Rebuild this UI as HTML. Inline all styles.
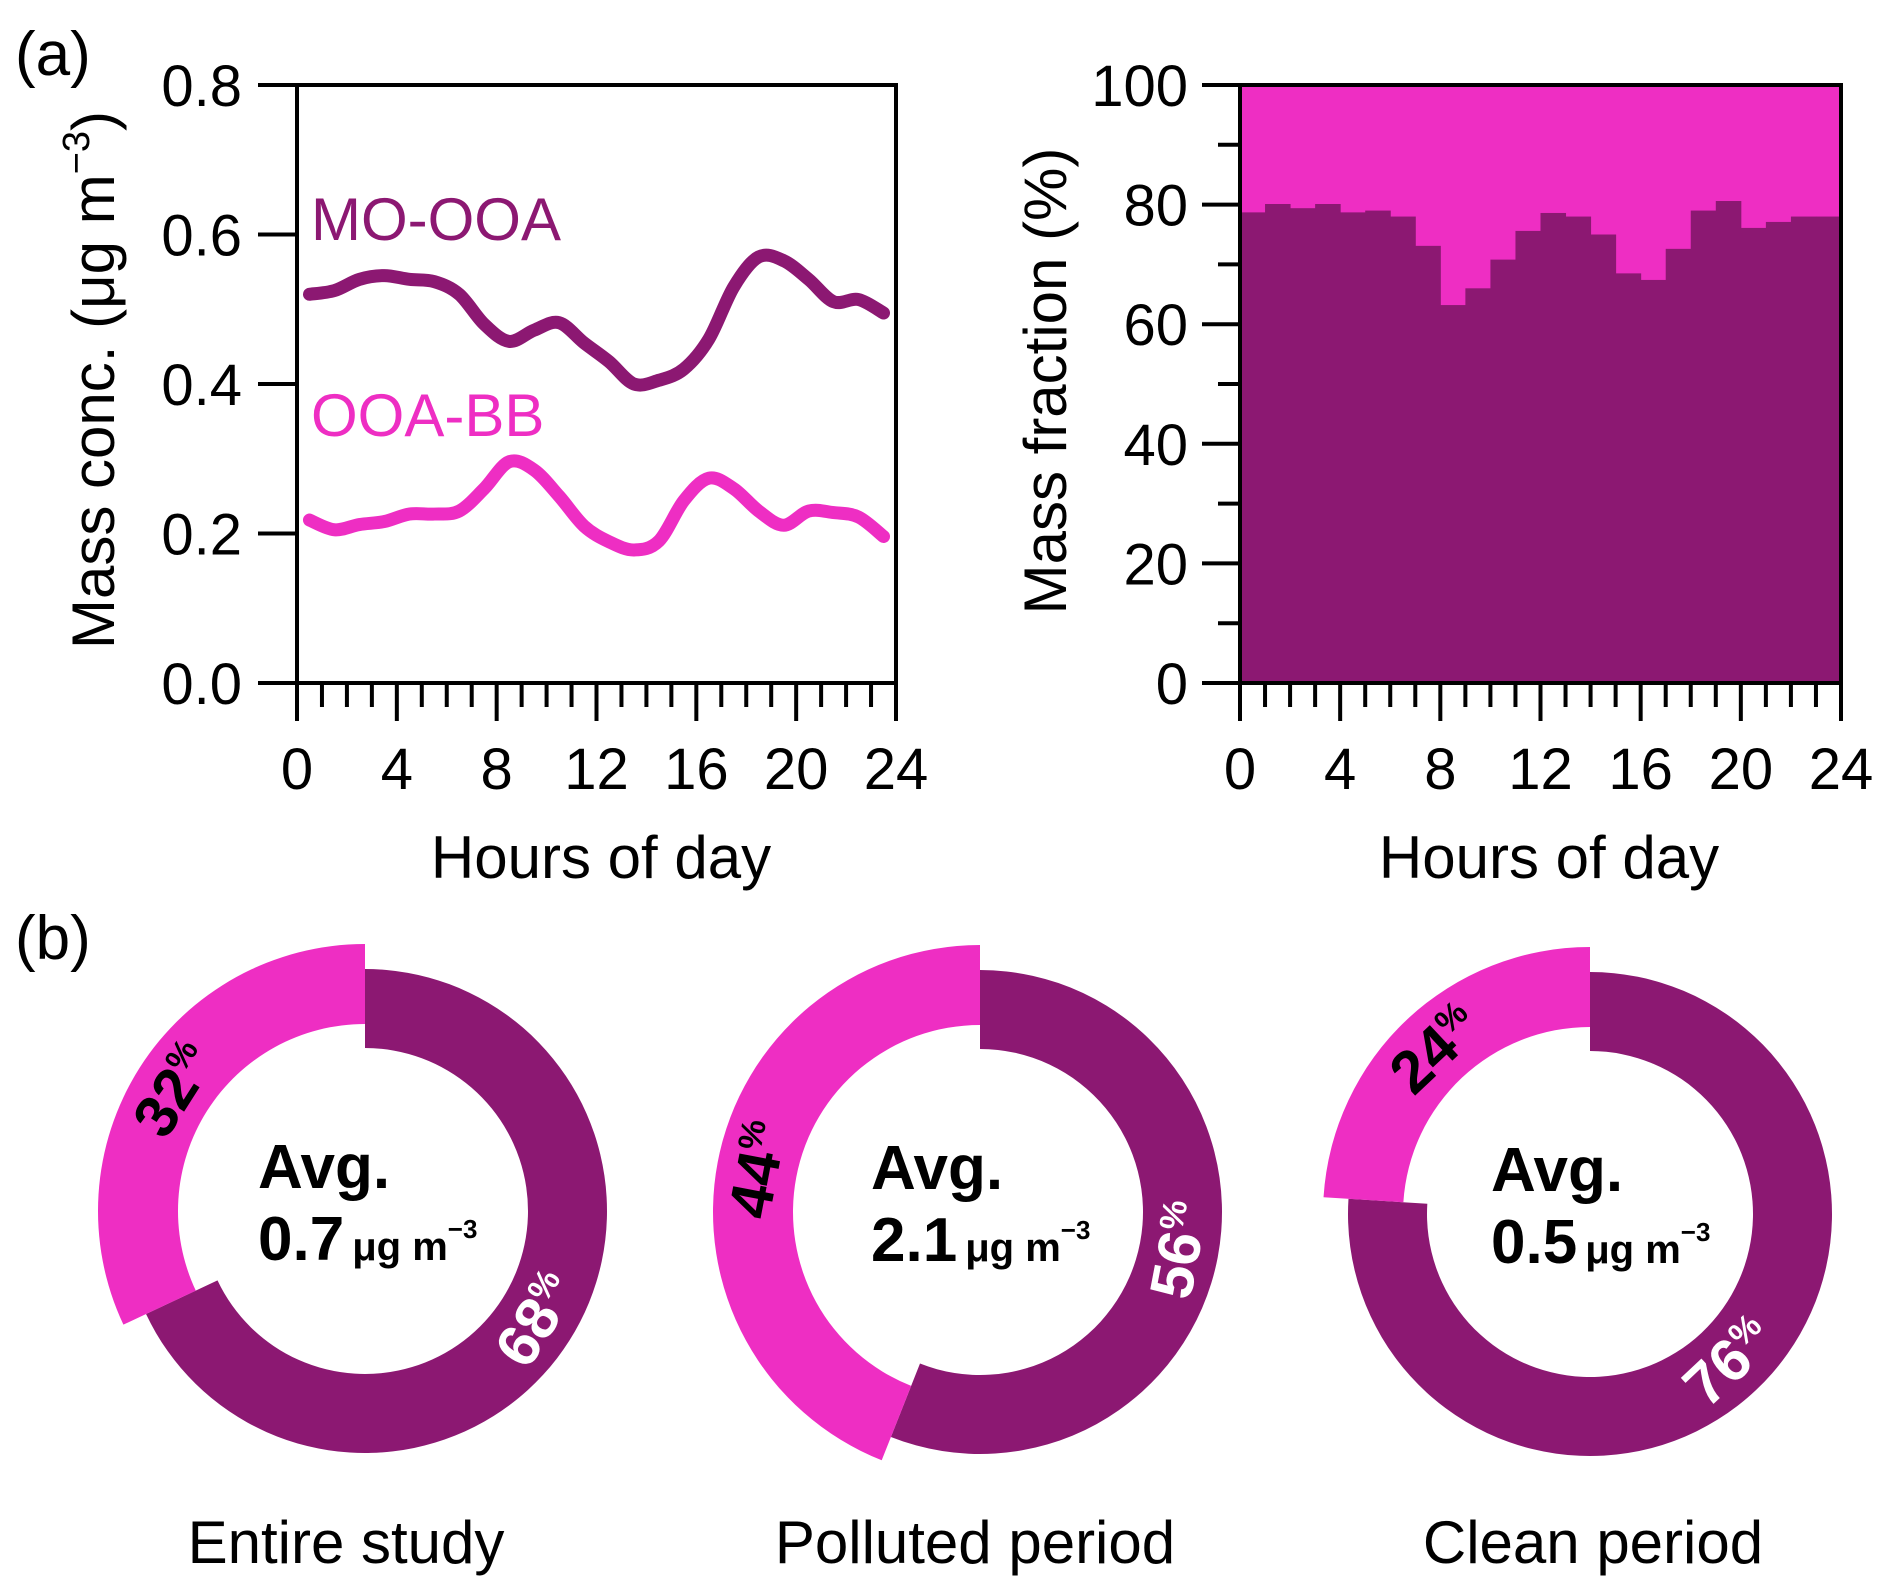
<!DOCTYPE html>
<html><head><meta charset="utf-8"><style>
html,body{margin:0;padding:0;background:#fff}
svg{display:block;font-family:"Liberation Sans",Arial,sans-serif}
</style></head><body>
<svg id="fig" width="1892" height="1594" viewBox="0 0 1892 1594" xmlns="http://www.w3.org/2000/svg">
<text x="15" y="75" font-size="62">(a)</text>
<text x="15" y="959" font-size="62">(b)</text>
<g id="left"></g>
<g id="right"></g>
<g id="donuts"></g>
</svg>
<script>
const NS="http://www.w3.org/2000/svg";
const DARK="#8c1872", PINK="#ee2ec3";
// ---- data ----
const hours=[0.5,1.5,2.5,3.5,4.5,5.5,6.5,7.5,8.5,9.5,10.5,11.5,12.5,13.5,14.5,15.5,16.5,17.5,18.5,19.5,20.5,21.5,22.5,23.5];
const moOoa=[0.52,0.525,0.54,0.545,0.54,0.537,0.52,0.48,0.457,0.472,0.482,0.455,0.43,0.40,0.405,0.42,0.46,0.53,0.57,0.565,0.54,0.51,0.513,0.495];
const ooaBb=[0.218,0.205,0.212,0.216,0.226,0.226,0.23,0.26,0.296,0.285,0.25,0.21,0.189,0.178,0.19,0.244,0.274,0.26,0.23,0.211,0.23,0.228,0.222,0.196];
const concTicks=[0,0.2,0.4,0.6,0.8];
const concTickLabels=["0.0","0.2","0.4","0.6","0.8"];
const hourTicks=[0,4,8,12,16,20,24];
const fracStart=[0,1,2,3,4,5,6,7,8,9,10,11,12,13,14,15,16,17,18,19,20,21,22,23];
const moFrac=[78.7,80.1,79.4,80.1,78.7,79.0,78.0,73.1,63.2,66.0,70.8,75.6,78.6,78.0,75.0,68.5,67.4,72.6,79.0,80.6,76.1,77.1,78.0,78.0];
const fracTicks=[0,20,40,60,80,100];
const donutNames=["Entire study","Polluted period","Clean period"];
const donutMo=[68,56,76];
const donutAvg=["0.7","2.1","0.5"];

function el(tag,attrs,parent,txt){const e=document.createElementNS(NS,tag);for(const k in attrs)e.setAttribute(k,attrs[k]);if(txt!==undefined)e.textContent=txt;parent.appendChild(e);return e;}
function smooth(pts){let d="M"+pts[0][0]+","+pts[0][1];for(let i=0;i<pts.length-1;i++){const p0=pts[Math.max(0,i-1)],p1=pts[i],p2=pts[i+1],p3=pts[Math.min(pts.length-1,i+2)];
const c1=[p1[0]+(p2[0]-p0[0])/6,p1[1]+(p2[1]-p0[1])/6],c2=[p2[0]-(p3[0]-p1[0])/6,p2[1]-(p3[1]-p1[1])/6];d+=" C"+c1+" "+c2+" "+p2;}return d;}

// ---- left chart ----
const L=document.getElementById('left');
const lx0=297,lx1=896,ly0=683,ly1=85;
const xL=h=>lx0+(lx1-lx0)*h/24, yL=v=>ly0-(ly0-ly1)*v/0.8;
function drawSeries(vals,color,name){const p=el('path',{d:smooth(hours.map((h,i)=>[xL(h),yL(vals[i])])),fill:"none",stroke:color,"stroke-width":13,"stroke-linecap":"round","stroke-linejoin":"round"},L);

}
drawSeries(moOoa,DARK,'mo-ooa-line');
drawSeries(ooaBb,PINK,'ooa-bb-line');
el('rect',{x:lx0,y:ly1,width:lx1-lx0,height:ly0-ly1,fill:"none",stroke:"#000","stroke-width":4,},L);
concTicks.forEach((v,i)=>{el('line',{x1:258,x2:lx0,y1:yL(v),y2:yL(v),stroke:"#000","stroke-width":4},L);
const t=el('text',{x:242,y:yL(v)+21,"font-size":58,"text-anchor":"end"},L,concTickLabels[i]);

});
function xAxis(G,x0,x1,y0){for(let h=0;h<=24;h++){const x=x0+(x1-x0)*h/24;const major=h%4===0;el('line',{x1:x,x2:x,y1:y0,y2:major?721:707,stroke:"#000","stroke-width":4},G);}
hourTicks.forEach(h=>{const t=el('text',{x:x0+(x1-x0)*h/24,y:789,"font-size":58,"text-anchor":"middle"},G,String(h));

});}
xAxis(L,lx0,lx1,ly0);
el('text',{x:601,y:878,"font-size":60,"text-anchor":"middle",},L,"Hours of day");
const yt=el('text',{transform:"translate(114,380) rotate(-90)","font-size":60,"text-anchor":"middle",},L);
yt.innerHTML='Mass conc. (μg m<tspan font-size="38" dy="-25">−3</tspan><tspan dy="25">)</tspan>';
el('text',{x:311,y:240,"font-size":60,fill:DARK,},L,"MO-OOA");
el('text',{x:311,y:436,"font-size":60,fill:PINK,},L,"OOA-BB");

// ---- right chart ----
const R=document.getElementById('right');
const rx0=1240,rx1=1841,ry0=683,ry1=85;
const xR=h=>rx0+(rx1-rx0)*h/24, yR=v=>ry0-(ry0-ry1)*v/100;
el('rect',{x:rx0,y:ry1,width:rx1-rx0,height:ry0-ry1,fill:PINK,},R);
fracStart.forEach((h,i)=>{const b=el('rect',{x:xR(h),y:yR(moFrac[i]),width:xR(h+1)-xR(h)+0.5,height:ry0-yR(moFrac[i]),fill:DARK},R);

});
el('rect',{x:rx0,y:ry1,width:rx1-rx0,height:ry0-ry1,fill:"none",stroke:"#000","stroke-width":4,},R);
for(let v=0;v<=100;v+=10){el('line',{x1:v%20===0?1202:1218,x2:rx0,y1:yR(v),y2:yR(v),stroke:"#000","stroke-width":4},R);}
fracTicks.forEach(v=>{const t=el('text',{x:1188,y:yR(v)+21,"font-size":58,"text-anchor":"end"},R,String(v));

});
xAxis(R,rx0,rx1,ry0);
el('text',{x:1549,y:878,"font-size":60,"text-anchor":"middle",},R,"Hours of day");
el('text',{transform:"translate(1066,381) rotate(-90)","font-size":60,"text-anchor":"middle",},R,"Mass fraction (%)");

// ---- donuts ----
const D=document.getElementById('donuts');
const centers=[[365,1211],[980,1212],[1590,1214]];
const textOff=[-107,-109,-99];
const titleX=[346,975,1593];
function pt(cx,cy,r,a){const t=a*Math.PI/180;return [cx+r*Math.sin(t),cy-r*Math.cos(t)];}
function arc(cx,cy,r0,r1,a0,a1){const lg=(a1-a0)>180?1:0;const p1=pt(cx,cy,r1,a0),p2=pt(cx,cy,r1,a1),p3=pt(cx,cy,r0,a1),p4=pt(cx,cy,r0,a0);
return `M${p1} A${r1},${r1} 0 ${lg} 1 ${p2} L${p3} A${r0},${r0} 0 ${lg} 0 ${p4} Z`;}
function pctLabel(cx,cy,r,aMid,val,color){const p=pt(cx,cy,r,aMid);const rot=aMid>180?aMid-360:aMid-180;
const t=el('text',{transform:`translate(${p[0]},${p[1]}) rotate(${rot})`,"text-anchor":"middle","font-weight":"bold",fill:color,"font-size":60,y:21},D);
t.innerHTML=`${val}<tspan font-size="34" dy="-21">%</tspan>`;

}
donutMo.forEach((m,i)=>{const [cx,cy]=centers[i];const aM=m*3.6;
const d=el('path',{d:arc(cx,cy,163,242,0,aM),fill:DARK},D);


const p=el('path',{d:arc(cx,cy,187,267,aM,360),fill:PINK},D);


pctLabel(cx,cy,202,aM/2,m,"#fff");
pctLabel(cx,cy,227,(aM+360)/2,100-m,"#000");
const tx=cx+textOff[i];
const a=el('text',{x:tx,y:cy-23,"font-size":62,"font-weight":"bold"},D,"Avg.");


const v=el('text',{x:tx,y:cy+49,"font-size":62,"font-weight":"bold"},D);
v.innerHTML=`${donutAvg[i]}<tspan font-size="40" dx="8">μg m</tspan><tspan font-size="26" dy="-22">−3</tspan>`;


const n=el('text',{x:titleX[i],y:1563,"font-size":60,"text-anchor":"middle"},D,donutNames[i]);

});
</script>
</body></html>
